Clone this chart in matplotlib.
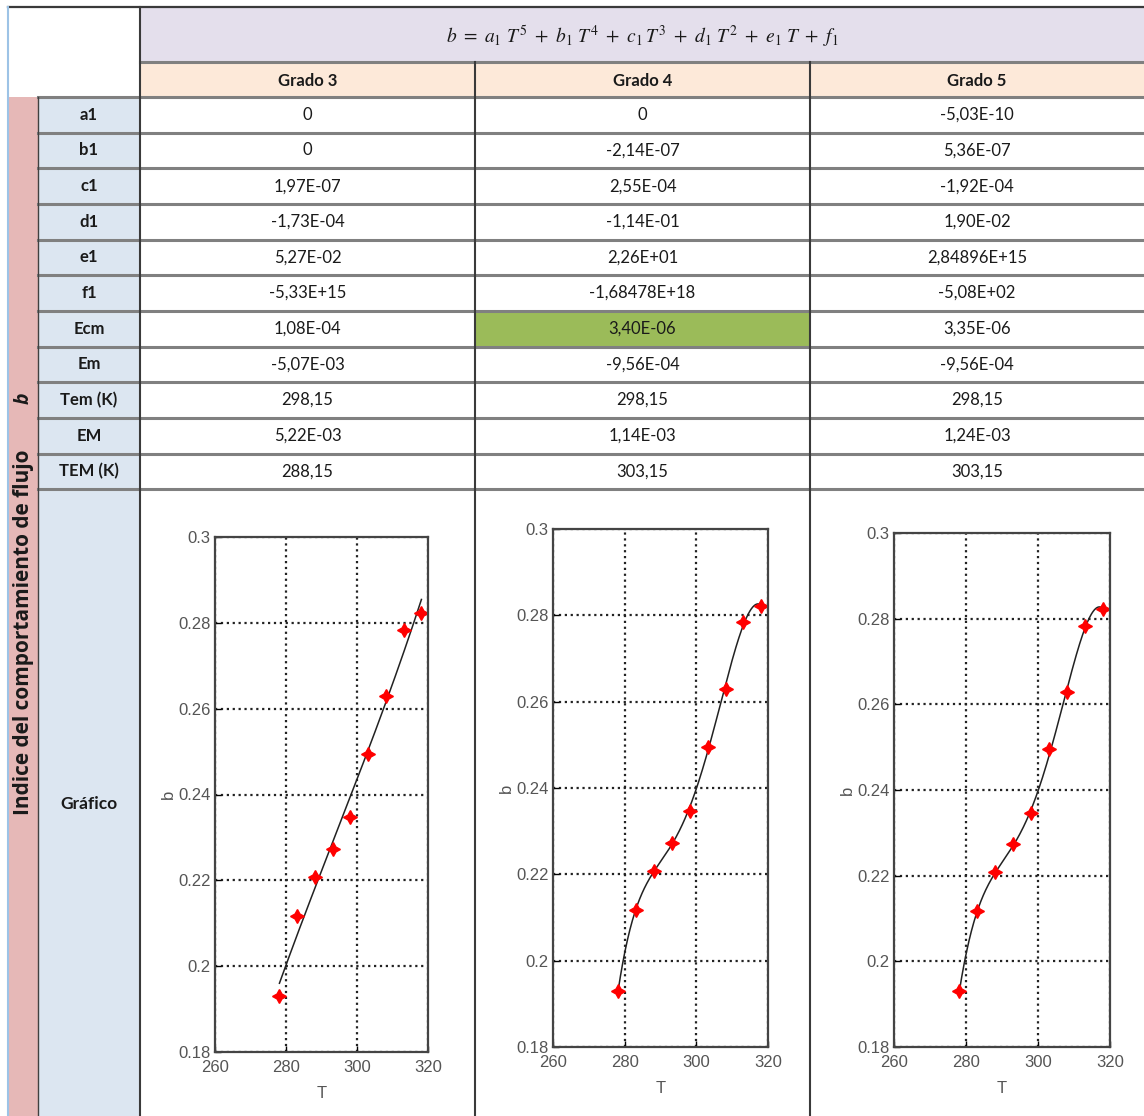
"""Tabla de ajustes polinomiales del indice b con sus tres graficos."""
import numpy as np
import matplotlib
matplotlib.use("Agg")
import matplotlib.pyplot as plt
from matplotlib.patches import Rectangle

plt.rcParams["mathtext.fontset"] = "stix"

# ---- datos -------------------------------------------------------------
temps = [278.15, 283.15, 288.15, 293.15, 298.15, 303.15, 308.15, 313.15, 318.15]
b_vals = [0.193, 0.2117, 0.2208, 0.2273, 0.2347, 0.2495, 0.2629, 0.2784, 0.2822]

grados = ["Grado 3", "Grado 4", "Grado 5"]
degrees = [3, 4, 5]
row_names = ["a1", "b1", "c1", "d1", "e1", "f1", "Ecm", "Em", "Tem (K)", "EM", "TEM (K)"]
grado3_vals = ["0", "0", "1,97E-07", "-1,73E-04", "5,27E-02", "-5,33E+15",
               "1,08E-04", "-5,07E-03", "298,15", "5,22E-03", "288,15"]
grado4_vals = ["0", "-2,14E-07", "2,55E-04", "-1,14E-01", "2,26E+01", "-1,68478E+18",
               "3,40E-06", "-9,56E-04", "298,15", "1,14E-03", "303,15"]
grado5_vals = ["-5,03E-10", "5,36E-07", "-1,92E-04", "1,90E-02", "2,84896E+15", "-5,08E+02",
               "3,35E-06", "-9,56E-04", "298,15", "1,24E-03", "303,15"]
best_col, best_row = 1, "Ecm"

x_ticks = [260, 280, 300, 320]
y_ticks = [0.18, 0.2, 0.22, 0.24, 0.26, 0.28, 0.3]
y_tick_labels = ["0.18", "0.2", "0.22", "0.24", "0.26", "0.28", "0.3"]

# ---- layout (pixeles) --------------------------------------------------
W, H = 1144, 1116
col_x = [140, 475, 810, W]
top, head1, head2 = 7, 62, 97
row_h = 35.65
plot_boxes = [(215, 428, 537, 1052), (553, 768, 529, 1047), (894, 1110, 533, 1047)]

table_font = ["Lato", "DejaVu Sans"]
side_font = ["Open Sans", "DejaVu Sans"]
plot_font = ["Liberation Sans", "DejaVu Sans"]
ink = "#1a1a1a"

fig = plt.figure(figsize=(W / 100, H / 100), dpi=100)
tab = fig.add_axes([0, 0, 1, 1])
tab.set_xlim(0, W)
tab.set_ylim(H, 0)
tab.axis("off")

# fondos
tab.add_patch(Rectangle((140, top), W - 140, head1 - top, color="#e4dfec", lw=0))
tab.add_patch(Rectangle((140, head1), W - 140, head2 - head1, color="#fde9d9", lw=0))
tab.add_patch(Rectangle((8, head2), 30, H - head2, color="#e6b8b7", lw=0))
tab.add_patch(Rectangle((38, head2), 102, H - head2, color="#dce6f1", lw=0))
ri = row_names.index(best_row)
tab.add_patch(Rectangle((col_x[best_col], head2 + ri * row_h),
                        col_x[best_col + 1] - col_x[best_col], row_h,
                        color="#9bbb59", lw=0))

# lineas horizontales
tab.plot([8, W], [top, top], color="#3a3a3a", lw=1.6)
tab.plot([140, W], [head1, head1], color="#808080", lw=2.2)
for i in range(len(row_names) + 1):
    y = head2 + i * row_h
    tab.plot([38, W], [y, y], color="#808080", lw=2.2)

# lineas verticales
tab.plot([8, 8], [top, H], color="#9dc3e6", lw=1.5)
tab.plot([38, 38], [head2, H], color="#404040", lw=1.0)
tab.plot([140, 140], [top, H], color="#3a3a3a", lw=1.5)
for x in col_x[1:3]:
    tab.plot([x, x], [head1, H], color="#3a3a3a", lw=1.5)

# textos de cabecera
tab.text((140 + W) / 2, (top + head1) / 2 + 2,
         r"$b\ =\ a_1\ T^5\ +\ b_1\ T^4\ +\ c_1\,T^3\ +\ d_1\ T^2\ +\ e_1\ T\ +\ f_1$",
         ha="center", va="center", fontsize=14, color=ink)
for j, g in enumerate(grados):
    tab.text((col_x[j] + col_x[j + 1]) / 2, (head1 + head2) / 2 + 1, g,
             ha="center", va="center", fontsize=12, fontweight="bold",
             family=table_font, color=ink)

# filas
columns = [grado3_vals, grado4_vals, grado5_vals]
for i, name in enumerate(row_names):
    yc = head2 + (i + 0.5) * row_h
    tab.text(89, yc, name, ha="center", va="center", fontsize=12,
             fontweight="bold", family=table_font, color=ink)
    for j, vals in enumerate(columns):
        tab.text((col_x[j] + col_x[j + 1]) / 2, yc, vals[i], ha="center",
                 va="center", fontsize=12, family=table_font, color=ink)

tab.text(89, 804, "Gráfico", ha="center", va="center", fontsize=12.5,
         fontweight="bold", family=table_font, color=ink)
tab.text(24, 632, "Indice del comportamiento de flujo", rotation=90,
         ha="center", va="center", fontsize=15, fontweight="bold",
         family=side_font, color=ink)
tab.text(24, 398, "b", rotation=90, ha="center", va="center", fontsize=14,
         fontweight="bold", style="italic", family=side_font, color=ink)

# ---- graficos ----------------------------------------------------------
t_arr = np.array(temps)
b_arr = np.array(b_vals)
t_fine = np.linspace(t_arr.min(), t_arr.max(), 300)

for (left, right, ytop, ybot), deg in zip(plot_boxes, degrees):
    rect = [left / W, 1 - ybot / H, (right - left) / W, (ybot - ytop) / H]
    ax = fig.add_axes(rect)
    fit = np.polynomial.Polynomial.fit(t_arr, b_arr, deg)
    ax.plot(t_fine, fit(t_fine), color="#222222", lw=1.1)
    ax.plot(t_arr, b_arr, ls="none", marker=(4, 1, 0), ms=10, color="red",
            mec="red")
    ax.set_xlim(x_ticks[0], x_ticks[-1])
    ax.set_ylim(y_ticks[0], y_ticks[-1])
    ax.set_xticks(x_ticks)
    ax.set_xticklabels([str(v) for v in x_ticks], family=plot_font,
                       fontsize=12, color="#555555")
    ax.set_yticks(y_ticks)
    ax.set_yticklabels(y_tick_labels, family=plot_font, fontsize=12,
                       color="#555555")
    ax.tick_params(axis="x", direction="in", length=4, width=1, pad=6)
    ax.tick_params(axis="y", direction="in", length=4, width=1, pad=3)
    ax.grid(True, ls=":", color="#222222", lw=1.6)
    for s in ax.spines.values():
        s.set_color("#444444")
        s.set_linewidth(1.6)
    ax.set_xlabel("T", family=plot_font, fontsize=12, color="#555555", labelpad=8)
    ax.set_ylabel("b", family=plot_font, fontsize=12, color="#555555", labelpad=2)

fig.savefig("out.png", dpi=100)
